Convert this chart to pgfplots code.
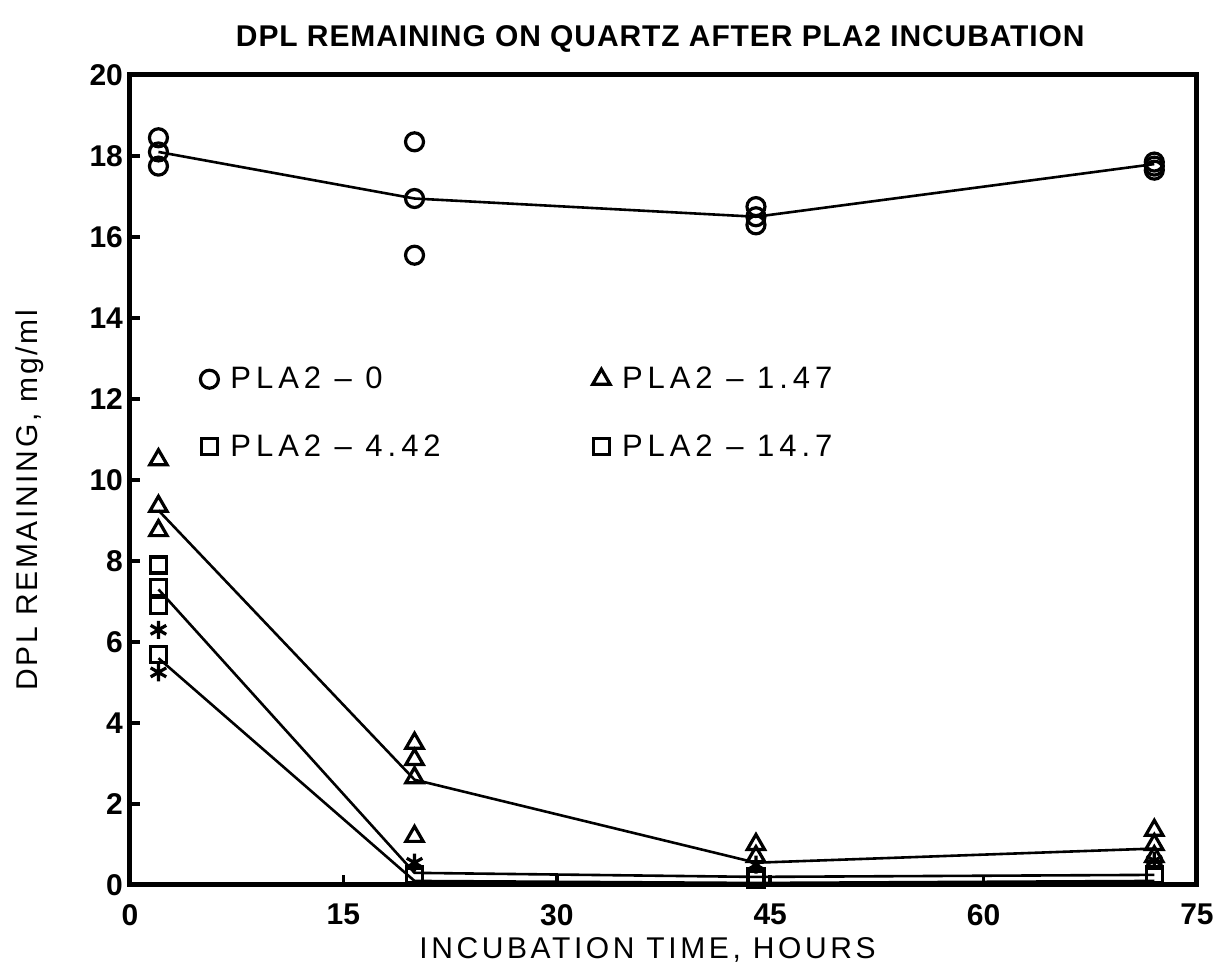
\documentclass[border=0pt]{standalone}
\usepackage{fontspec}
\setmainfont{Liberation Sans}
\newfontfamily\titlefont[LetterSpace=3]{Liberation Sans}
\newfontfamily\xlabfont[LetterSpace=12]{Liberation Sans}
\newfontfamily\ylabfont[LetterSpace=9]{Liberation Sans}
\newfontfamily\legfont[LetterSpace=16]{Liberation Sans}
\usepackage{pgfplots}
\pgfplotsset{compat=1.18}
\begin{document}
\begin{tikzpicture}
\useasboundingbox (-65pt,-41.5pt) rectangle (542.5pt,442.5pt);
\begin{axis}[
  at={(0,0)}, anchor=south west,
  scale only axis, width=533.5pt, height=405pt,
  xmin=0, xmax=75, ymin=0, ymax=20,
  xtick={0,15,30,45,60,75}, ytick={0,2,...,20},
  tick align=inside, xtick pos=bottom, ytick pos=left,
  major tick length=5pt,
  axis line style={line width=2.5pt},
  every tick/.style={line width=1.8pt, black},
  /pgf/number format/assume math mode=true,
  ticklabel style={font=\fontsize{15}{15}\selectfont\bfseries},
  xticklabel style={yshift=-6pt},
  xlabel={INCUBATION TIME, HOURS},
  ylabel={DPL REMAINING, mg/ml},
  xlabel style={font=\xlabfont\fontsize{15}{15}\selectfont, at={(axis description cs:0.485,-0.08)}, anchor=center},
  ylabel style={font=\ylabfont\fontsize{15}{15}\selectfont, at={(axis description cs:-0.094,0.475)}, anchor=center, rotate=0},
  title={DPL REMAINING ON QUARTZ AFTER PLA2 INCUBATION},
  title style={font=\titlefont\fontsize{15}{15}\selectfont\bfseries, at={(axis description cs:0.497,1.03)}, anchor=center},
  legend columns=2,
  legend cell align=left,
  legend style={draw=none, fill=none, at={(axis cs:4.5,13.0)}, anchor=north west,
    font=\legfont\fontsize{15.5}{15.5}\selectfont, row sep=17.5pt,
    nodes={inner xsep=6pt},
    /tikz/every even column/.append style={column sep=70pt}},
  clip=false,
]
% lines
\addplot[black, line width=1.3pt, forget plot] coordinates {(2,18.1) (20,16.95) (44,16.5) (72,17.8)};
\addplot[black, line width=1.3pt, forget plot] coordinates {(2,9.25) (20,2.6) (44,0.55) (72,0.9)};
\addplot[black, line width=1.3pt, forget plot] coordinates {(2,7.3) (20,0.3) (44,0.2) (72,0.25)};
\addplot[black, line width=1.3pt, forget plot] coordinates {(2,5.6) (20,0.1) (44,0.05) (72,0.1)};
% markers
\addplot[only marks, mark=o, mark size=4.5pt, mark options={line width=1.6pt, black}] coordinates {
  (2,18.45) (2,18.1) (2,17.75)
  (20,18.35) (20,16.95) (20,15.55)
  (44,16.75) (44,16.5) (44,16.3)
  (72,17.85) (72,17.75) (72,17.65)};
\addlegendentry{PLA2 – 0}
\addplot[only marks, mark=triangle, mark size=5pt, mark options={line width=1.6pt, black}] coordinates {
  (2,10.5) (2,9.35) (2,8.75)
  (20,3.5) (20,3.1) (20,2.65) (20,1.2)
  (44,1.0) (44,0.7)
  (72,1.35) (72,1.0) (72,0.7)};
\addlegendentry{PLA2 – 1.47}
\addplot[only marks, mark=square, mark size=4pt, mark options={line width=1.6pt, black}] coordinates {
  (2,7.9) (2,7.35) (2,6.9)
  (20,0.25) (44,0.2) (72,0.25)};
\addlegendentry{PLA2 – 4.42}
\addplot[only marks, mark=square, mark size=4pt, mark options={line width=1.6pt, black}] coordinates {
  (2,5.7) (20,0.2) (44,0.15) (72,0.2)};
\addlegendentry{PLA2 – 14.7}
\addplot[only marks, mark=asterisk, mark size=4.5pt, mark options={line width=1.6pt, black}, forget plot] coordinates {
  (2,6.3) (2,5.25) (20,0.55) (44,0.5) (72,0.6)};
\end{axis}
\end{tikzpicture}
\end{document}
